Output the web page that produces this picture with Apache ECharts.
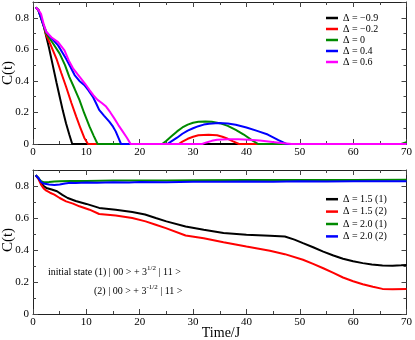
<!DOCTYPE html>
<html>
<head>
<meta charset="utf-8">
<script src="https://cdn.jsdelivr.net/npm/echarts@6/dist/echarts.min.js"></script>
<style>
  html, body { margin: 0; padding: 0; background: #fff; }
  #chart { width: 415px; height: 340px; }
</style>
</head>
<body>
<div id="chart"></div>
<script>
// top panel: C(t) for several Delta, pairs of [time, C]
const topNames = ['Δ = −0.9', 'Δ = −0.2', 'Δ = 0', 'Δ = 0.4', 'Δ = 0.6']
const topColors = ['#000000', '#ff0000', '#008a00', '#0000ff', '#ff00ff']

const topM09 = [[0.5,0.865],[1,0.85],[1.5,0.8],[2,0.75],[2.5,0.68],[3,0.61],[3.7,0.5],[4.4,0.39],[5,0.3],[5.6,0.21],[6.2,0.13],[6.8,0.06],[7.35,0],[70,0]]
const topM02 = [[0.5,0.865],[1,0.85],[1.5,0.8],[2,0.75],[2.5,0.69],[3.4,0.62],[4.4,0.54],[5.3,0.45],[6.2,0.363],[7.2,0.26],[8.1,0.174],[8.9,0.1],[9.6,0.04],[10.3,0],[27.3,0],[28,0.015],[29,0.033],[30,0.046],[31,0.055],[32.9,0.059],[34.5,0.055],[35.5,0.046],[36.5,0.033],[37.5,0.017],[38.6,0],[70,0]]
const topZero = [[0.5,0.865],[1,0.85],[1.5,0.8],[2,0.75],[2.5,0.70],[3.7,0.64],[5,0.573],[6,0.5],[6.8,0.426],[7.8,0.35],[8.7,0.28],[9.6,0.195],[10.6,0.11],[11.4,0.05],[12.1,0],[24.2,0],[25,0.02],[26,0.05],[27,0.08],[28,0.105],[29,0.123],[30,0.135],[31,0.141],[32.3,0.143],[33.5,0.141],[35,0.132],[36.5,0.115],[38,0.09],[39.5,0.06],[41,0.025],[42.2,0],[69,0],[70,0.012]]
const topP04 = [[0.5,0.865],[1,0.85],[1.5,0.8],[2,0.75],[2.5,0.71],[3.5,0.67],[4.7,0.625],[5.5,0.58],[6.2,0.54],[7,0.49],[7.8,0.437],[8.7,0.4],[9.6,0.374],[10.4,0.34],[11.2,0.3],[11.8,0.26],[12.4,0.216],[13.3,0.18],[14.3,0.142],[15,0.11],[15.5,0.08],[16,0.04],[16.5,0],[25.2,0],[26,0.018],[27,0.04],[28,0.065],[29,0.085],[30,0.1],[31,0.113],[32,0.123],[33,0.129],[34.8,0.133],[36.5,0.13],[38,0.122],[40,0.105],[42,0.083],[44,0.06],[46,0.025],[47.5,0],[70,0]]
const topP06 = [[0.5,0.865],[1,0.85],[1.5,0.825],[2,0.76],[2.5,0.71],[3.5,0.675],[4.7,0.646],[5.9,0.594],[6.7,0.53],[7.5,0.48],[8.3,0.445],[9,0.415],[9.8,0.38],[10.6,0.342],[11.3,0.31],[12.1,0.28],[12.9,0.26],[13.7,0.237],[14.5,0.2],[15.2,0.164],[16,0.12],[16.8,0.08],[17.6,0.04],[18.3,0],[31.7,0],[32.5,0.01],[33.5,0.02],[34.5,0.027],[36.6,0.03],[38.5,0.03],[40.5,0.027],[42.5,0.022],[44.5,0.015],[46.5,0.007],[48.5,0],[70,0]]

// bottom panel: initial states (1) and (2)
const botNames = ['Δ = 1.5 (1)', 'Δ = 1.5 (2)', 'Δ = 2.0 (1)', 'Δ = 2.0 (2)']
const botColors = ['#000000', '#ff0000', '#008a00', '#0000ff']

const bot15a = [[0.5,0.867],[1,0.85],[1.5,0.82],[2,0.8],[2.5,0.788],[3.5,0.778],[4.5,0.767],[5.5,0.745],[6.5,0.725],[8,0.706],[10,0.688],[12.4,0.663],[15.5,0.652],[18.6,0.638],[21,0.622],[23,0.6],[25,0.579],[28.6,0.547],[32,0.527],[35.7,0.506],[40,0.496],[44.4,0.489],[47.2,0.484],[49,0.465],[50.6,0.443],[52.5,0.417],[54.4,0.39],[56.3,0.366],[58.1,0.345],[60,0.33],[61.8,0.318],[63.5,0.309],[65.5,0.303],[67.4,0.302],[69,0.305],[70,0.307]]
const bot15b = [[0.5,0.867],[1,0.845],[1.5,0.809],[2,0.785],[2.5,0.771],[3.2,0.758],[4,0.746],[5,0.725],[6.2,0.704],[7.5,0.69],[8.7,0.673],[10.6,0.652],[12.4,0.625],[15.5,0.616],[18.6,0.6],[21.1,0.579],[23,0.558],[24.9,0.537],[28.6,0.491],[32,0.474],[35.7,0.449],[40,0.422],[44.4,0.395],[47.2,0.374],[50.6,0.339],[52.5,0.313],[54.4,0.286],[56.3,0.257],[58.1,0.228],[60,0.205],[61.8,0.186],[63.7,0.17],[65.5,0.157],[67.4,0.155],[70,0.157]]
const bot20a = [[0.5,0.867],[1,0.85],[1.5,0.83],[2,0.824],[3,0.825],[4,0.828],[5,0.83],[7,0.832],[10,0.832],[15,0.834],[20,0.834],[25,0.835],[30,0.836],[40,0.837],[50,0.838],[60,0.838],[70,0.839]]
const bot20b = [[0.5,0.867],[1,0.85],[1.5,0.825],[2,0.815],[3,0.81],[4,0.806],[5,0.81],[6,0.816],[7,0.82],[8,0.818],[10,0.822],[12,0.82],[15,0.824],[18,0.822],[20,0.825],[25,0.823],[30,0.826],[35,0.826],[40,0.828],[45,0.826],[50,0.829],[55,0.828],[60,0.83],[65,0.829],[70,0.83]]

const topData = [topM09, topM02, topZero, topP04, topP06]
const botData = [bot15a, bot15b, bot20a, bot20b]

const font = 'Liberation Serif'

function xAxisFor(gridIndex, position, showLabel) {
  return {
    type: 'value', gridIndex: gridIndex, position: position,
    min: 0, max: 70, interval: 10,
    axisLine: { show: true, onZero: false, lineStyle: { color: '#222', width: 1 } },
    axisTick: { show: true, inside: true, length: 5, lineStyle: { color: '#444' } },
    minorTick: { show: true, splitNumber: 2, length: 3, lineStyle: { color: '#444' } },
    axisLabel: { show: showLabel, margin: 3, color: '#000', fontFamily: font, fontSize: 11 },
    splitLine: { show: false }
  }
}

function yAxisFor(gridIndex, position, showLabel) {
  return {
    type: 'value', gridIndex: gridIndex, position: position,
    min: 0, max: 0.9, interval: 0.2,
    axisLine: { show: true, onZero: false, lineStyle: { color: '#222', width: 1 } },
    axisTick: { show: true, inside: true, length: 5, lineStyle: { color: '#444' } },
    minorTick: { show: true, splitNumber: 2, length: 3, lineStyle: { color: '#444' } },
    axisLabel: {
      show: showLabel, margin: 4, color: '#000', fontFamily: font, fontSize: 11,
      formatter: function (v) { return v > 0.85 ? '' : String(Math.round(v * 10) / 10) }
    },
    splitLine: { show: false }
  }
}

const series = []
topNames.forEach(function (name, i) {
  series.push({
    name: name, type: 'line', xAxisIndex: 0, yAxisIndex: 0,
    data: topData[i], showSymbol: false, symbol: 'none',
    lineStyle: { color: topColors[i], width: 2 }, itemStyle: { color: topColors[i] }
  })
})
botNames.forEach(function (name, i) {
  series.push({
    name: name, type: 'line', xAxisIndex: 2, yAxisIndex: 2,
    data: botData[i], showSymbol: false, symbol: 'none',
    lineStyle: { color: botColors[i], width: 2 }, itemStyle: { color: botColors[i] }
  })
})

const legendText = { fontFamily: font, fontSize: 10, color: '#000' }

const option = {
  animation: false,
  backgroundColor: '#fff',
  grid: [
    { left: 33, top: 2, width: 376, height: 142 },
    { left: 33, top: 170, width: 376, height: 144 }
  ],
  xAxis: [
    xAxisFor(0, 'bottom', true), xAxisFor(0, 'top', false),
    xAxisFor(1, 'bottom', true), xAxisFor(1, 'top', false)
  ],
  yAxis: [
    yAxisFor(0, 'left', true), yAxisFor(0, 'right', false),
    yAxisFor(1, 'left', true), yAxisFor(1, 'right', false)
  ],
  legend: [
    {
      data: topNames, orient: 'vertical', left: 326, top: 12.5,
      icon: 'rect', itemWidth: 12, itemHeight: 2.5, itemGap: 0, padding: 0,
      selectedMode: false, textStyle: Object.assign({ lineHeight: 11 }, legendText)
    },
    {
      data: botNames, orient: 'vertical', left: 326, top: 193,
      icon: 'rect', itemWidth: 12, itemHeight: 2.5, itemGap: 0, padding: 0,
      selectedMode: false, textStyle: Object.assign({ lineHeight: 12.4 }, legendText)
    }
  ],
  graphic: [
    { type: 'text', x: 8, y: 73, rotation: Math.PI / 2,
      style: { text: 'C(t)', font: '15px "Liberation Serif"', fill: '#000', textAlign: 'center', textVerticalAlign: 'middle' } },
    { type: 'text', x: 8, y: 240, rotation: Math.PI / 2,
      style: { text: 'C(t)', font: '15px "Liberation Serif"', fill: '#000', textAlign: 'center', textVerticalAlign: 'middle' } },
    { type: 'text', x: 221, y: 333,
      style: { text: 'Time/J', font: '14px "Liberation Serif"', fill: '#000', textAlign: 'center', textVerticalAlign: 'middle' } },
    { type: 'text', x: 48, y: 272,
      style: {
        text: '{n|initial state (1) | 00 > + 3}{s|1/2}{n| | 11 >}',
        textVerticalAlign: 'middle',
        rich: {
          n: { fontFamily: font, fontSize: 10, color: '#000' },
          s: { fontFamily: font, fontSize: 7, color: '#000', padding: [0, 0, 8, 0] }
        }
      } },
    { type: 'text', x: 94, y: 291,
      style: {
        text: '{n|(2) | 00 > + 3}{s|-1/2}{n| | 11 >}',
        textVerticalAlign: 'middle',
        rich: {
          n: { fontFamily: font, fontSize: 10, color: '#000' },
          s: { fontFamily: font, fontSize: 7, color: '#000', padding: [0, 0, 8, 0] }
        }
      } }
  ],
  series: series
}

const chart = echarts.init(document.getElementById('chart'))
chart.setOption(option)
</script>
</body>
</html>
